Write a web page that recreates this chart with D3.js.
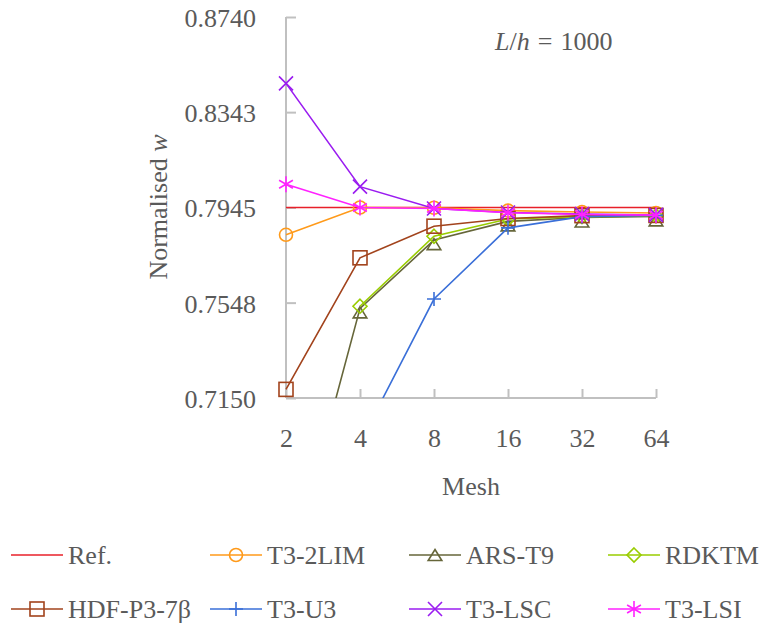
<!DOCTYPE html>
<html>
<head>
<meta charset="utf-8">
<script src="https://cdn.jsdelivr.net/npm/d3@7"></script>
<style>
  html, body { margin: 0; padding: 0; background: #fff; }
</style>
</head>
<body>
<svg id="chart" width="773" height="628" style="font-family: 'Liberation Serif', serif;"></svg>
<script>
// ---- data ----
const meshes = ["2", "4", "8", "16", "32", "64"];
const yTicks = [0.7150, 0.7548, 0.7945, 0.8343, 0.8740];
const refValues    = [0.7945, 0.7945, 0.7945, 0.7945, 0.7945, 0.7945];
const t32limValues = [0.7831, 0.7945, 0.7944, 0.7932, 0.7926, 0.7922];
const arsT9Values  = [0.6372, 0.7524, 0.7809, 0.7887, 0.7903, 0.7908];
const rdktmValues  = [null,   0.7533, 0.7825, 0.7897, 0.7907, 0.7910];
const hdfValues    = [0.7186, 0.7735, 0.7867, 0.7899, 0.7911, 0.7912];
const t3u3Values   = [0.6200, 0.6964, 0.7563, 0.7860, 0.7907, 0.7912];
const t3lscValues  = [0.8463, 0.8032, 0.7941, 0.7924, 0.7918, 0.7914];
const t3lsiValues  = [0.8042, 0.7945, 0.7941, 0.7923, 0.7916, 0.7913];
const seriesNames  = ["Ref.", "T3-2LIM", "ARS-T9", "RDKTM", "HDF-P3-7β", "T3-U3", "T3-LSC", "T3-LSI"];

const series = [
  { name: seriesNames[0], values: refValues,    color: "#e8202a", marker: "none" },
  { name: seriesNames[1], values: t32limValues, color: "#ff9a1a", marker: "circle" },
  { name: seriesNames[2], values: arsT9Values,  color: "#66663a", marker: "triangle" },
  { name: seriesNames[3], values: rdktmValues,  color: "#99cc00", marker: "diamond" },
  { name: seriesNames[4], values: hdfValues,    color: "#a2431c", marker: "square" },
  { name: seriesNames[5], values: t3u3Values,   color: "#3a6fd8", marker: "plus" },
  { name: seriesNames[6], values: t3lscValues,  color: "#9a1cf0", marker: "cross" },
  { name: seriesNames[7], values: t3lsiValues,  color: "#ff22ff", marker: "asterisk" }
];

const FONT = "'Liberation Serif', serif";
const TXT = "#5a5a5a";
const FS = "26px";

const svg = d3.select("#chart");
const x = d3.scalePoint().domain(meshes).range([286, 656]);
const y = d3.scaleLinear().domain([0.7150, 0.8740]).range([398, 17]);

const axisColor = "#c0c0c0";

svg.append("defs").append("clipPath").attr("id", "plotclip")
  .append("rect").attr("x", 270).attr("y", 0).attr("width", 420).attr("height", 398);

const yAxis = svg.append("g").attr("transform", "translate(286,0)")
  .call(d3.axisLeft(y).tickValues(yTicks).tickFormat(d3.format(".4f"))
    .tickSize(-10).tickSizeOuter(0).tickPadding(30));
const xAxis = svg.append("g").attr("transform", "translate(0,398)")
  .call(d3.axisBottom(x).tickSize(-9).tickSizeOuter(0).tickPadding(31));
[yAxis, xAxis].forEach(g => {
  g.attr("font-family", null).attr("font-size", null).style("font-family", FONT);
  g.select(".domain").attr("stroke", axisColor).attr("stroke-width", 2);
  g.selectAll(".tick line").attr("stroke", axisColor).attr("stroke-width", 2);
  g.selectAll(".tick text").style("font-size", FS).style("font-family", FONT).attr("fill", TXT);
});
yAxis.selectAll(".tick text").attr("dy", "0.36em");
yAxis.select(".domain").attr("d", `M0,${y(0.8740)}V398`);
xAxis.select(".domain").attr("d", `M286,0H656`);

function txt(sel) { return sel.style("font-family", FONT).style("font-size", FS).attr("fill", TXT); }

txt(svg.append("text")).attr("x", 471).attr("y", 495).attr("text-anchor", "middle").text("Mesh");
const yl = txt(svg.append("text")).attr("transform", "translate(167,207) rotate(-90)")
  .attr("text-anchor", "middle");
yl.append("tspan").text("Normalised ");
yl.append("tspan").attr("font-style", "italic").text("w");

const tt = txt(svg.append("text")).attr("x", 495).attr("y", 50);
tt.append("tspan").attr("font-style", "italic").text("L");
tt.append("tspan").text("/");
tt.append("tspan").attr("font-style", "italic").text("h");
tt.append("tspan").attr("dx", 8).text("=");
tt.append("tspan").attr("dx", 8).text("1000");

function drawMarker(g, type, color) {
  const apply = sel => sel.attr("stroke", color).attr("stroke-width", 1.6).attr("fill", "none");
  switch (type) {
    case "circle": apply(g.append("circle").attr("r", 6.5)); break;
    case "square": apply(g.append("rect").attr("x", -7).attr("y", -7).attr("width", 14).attr("height", 14)); break;
    case "triangle": apply(g.append("path").attr("d", "M0,-1.5L6.8,9.5L-6.8,9.5Z")); break;
    case "diamond": apply(g.append("path").attr("d", "M0,-7L7,0L0,7L-7,0Z")); break;
    case "plus": apply(g.append("path").attr("d", "M-7,0H7M0,-7V7")); break;
    case "cross": apply(g.append("path").attr("d", "M-7,-7L7,7M-7,7L7,-7")); break;
    case "asterisk": apply(g.append("path").attr("d",
      "M0,-8V8M-6.9,-4L6.9,4M-6.9,4L6.9,-4")); break;
  }
}

const plot = svg.append("g").attr("clip-path", "url(#plotclip)");
const line = d3.line().defined(d => d.v !== null).x(d => x(d.m)).y(d => y(d.v));

series.forEach(s => {
  const pts = meshes.map((m, i) => ({ m, v: s.values[i] }));
  plot.append("path").datum(pts).attr("d", line)
    .attr("fill", "none").attr("stroke", s.color).attr("stroke-width", 1.6);
  if (s.marker !== "none") {
    pts.filter(p => p.v !== null && p.v >= 0.7150 - 0.001).forEach(p => {
      const g = plot.append("g").attr("transform", `translate(${x(p.m)},${y(p.v)})`);
      drawMarker(g, s.marker, s.color);
    });
  }
});

const legX = [11, 210, 409, 608];
const legY = [555, 609];
series.forEach((s, i) => {
  const col = i % 4, row = Math.floor(i / 4);
  const g = svg.append("g").attr("transform", `translate(${legX[col]},${legY[row]})`);
  g.append("line").attr("x1", 0).attr("x2", 52).attr("y1", 0).attr("y2", 0)
    .attr("stroke", s.color).attr("stroke-width", 1.6);
  if (s.marker !== "none") {
    const mg = g.append("g").attr("transform", s.marker === "triangle" ? "translate(26,-4)" : "translate(26,0)");
    drawMarker(mg, s.marker, s.color);
  }
  txt(g.append("text")).attr("x", 57).attr("y", 9).text(s.name);
});
</script>
</body>
</html>
